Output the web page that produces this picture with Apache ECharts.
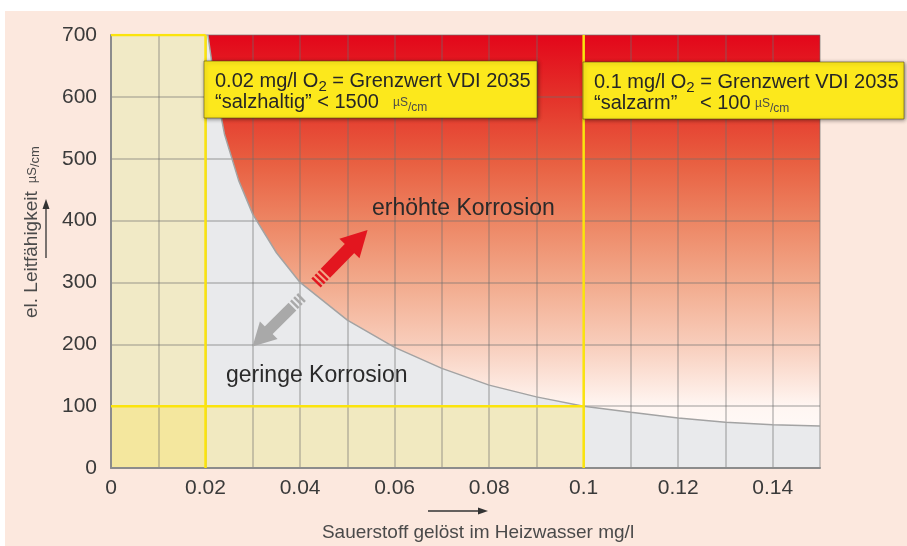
<!DOCTYPE html>
<html>
<head>
<meta charset="utf-8">
<script src="https://cdn.jsdelivr.net/npm/echarts/dist/echarts.min.js"></script>
<style>
html, body { margin: 0; padding: 0; background: #fff; }
#chart { width: 907px; height: 546px; }
</style>
</head>
<body>
<div id="chart"></div>
<script>
// tick labels
var xTickLabels = ['0', '0.02', '0.04', '0.06', '0.08', '0.1', '0.12', '0.14'];
var yTickLabels = ['0', '100', '200', '300', '400', '500', '600', '700'];

// Grenzkurve (O2 mg/l -> Leitfähigkeit µS/cm)
var curveX = [0.0205, 0.022, 0.024, 0.027, 0.030, 0.035, 0.040, 0.050, 0.060, 0.070, 0.080, 0.090, 0.100, 0.110, 0.120, 0.130, 0.140, 0.150];
var curveY = [700, 620, 540, 465, 410, 348, 300, 239, 195, 161, 134, 115, 100, 90, 81, 74, 70, 68];

// Grenzwerte VDI 2035
var o2Limits = [0.02, 0.1];
var condLimit = 100;
var xMax = 0.15, yMax = 700;

var font = "'Liberation Sans', Arial, sans-serif";

function pairs(xs, ys) {
    return xs.map(function (x, i) { return [x, ys[i]]; });
}
var curve = pairs(curveX, curveY);
var grayArea = [[0, yMax]].concat(curve);

// Fläche von der Achse bis zur Linie
function zone(name, data, color, z) {
    return {name: name, type: 'line', z: z, silent: true, symbol: 'none', data: data,
        lineStyle: {width: 0}, areaStyle: {origin: 'start', opacity: 1, color: color}};
}
// gelbe Grenzlinie
function limitLine(data) {
    return {type: 'line', z: 12, silent: true, symbol: 'none', data: data,
        lineStyle: {color: '#fbe40c', width: 2.5}};
}

// Pfeil mit Streifen am Ende (zeigt in lokaler +x Richtung)
function arrow(x, y, rot, len, color, half, headHalf, headLen) {
    var kids = [];
    [0, 4.5, 9].forEach(function (s) {
        kids.push({type: 'rect', z: 50, shape: {x: s, y: -half, width: 2.5, height: half * 2}, style: {fill: color}});
    });
    kids.push({type: 'rect', z: 50, shape: {x: 13.5, y: -half, width: len - headLen - 12.5, height: half * 2}, style: {fill: color}});
    kids.push({type: 'polygon', z: 50, shape: {points: [[len - headLen, -headHalf], [len, 0], [len - headLen, headHalf]]}, style: {fill: color}});
    return {type: 'group', x: x, y: y, rotation: rot, children: kids};
}

// Textstücke nebeneinander (für Index / Einheit)
var ctx = document.createElement('canvas').getContext('2d');
function run(x0, y, pieces) {
    var x = x0, out = [];
    pieces.forEach(function (p) {
        if (p.at != null) x = p.at;
        ctx.font = p.size + 'px ' + font;
        out.push({type: 'text', x: x, y: y + (p.dy || 0), z: 61,
            style: {text: p.text, fontSize: p.size, fontFamily: font, fill: p.color || '#262626', verticalAlign: 'middle'}});
        x += ctx.measureText(p.text).width;
    });
    return out;
}

function box(x, y, w, h, lines) {
    var els = [{type: 'rect', z: 60, shape: {x: x, y: y, width: w, height: h},
        style: {fill: '#fce81c', stroke: 'rgba(80,70,20,0.55)', lineWidth: 1,
            shadowBlur: 4, shadowColor: 'rgba(0,0,0,0.45)', shadowOffsetX: 1, shadowOffsetY: 1}}];
    lines.forEach(function (l) { els = els.concat(run(l[0], l[1], l[2])); });
    return els;
}

var unit = '#4a4a4a';
var graphics = [
    {type: 'rect', shape: {x: 0, y: 0, width: 907, height: 11}, style: {fill: '#fff'}, z: 100},
    {type: 'rect', shape: {x: 0, y: 0, width: 5, height: 546}, style: {fill: '#fff'}, z: 100}
].concat(
    box(204, 61, 333, 57, [
        [215, 81, [{text: '0.02 mg/l O', size: 20}, {text: '2', size: 15, dy: 6}, {text: ' = Grenzwert VDI 2035', size: 20}]],
        [215, 102, [{text: '\u201Csalzhaltig\u201D < 1500', size: 20}, {text: 'µS', size: 12, dy: 1, color: unit, at: 393}, {text: '/cm', size: 12, dy: 6, color: unit}]]
    ]),
    box(583, 62, 321, 57, [
        [594, 82, [{text: '0.1 mg/l O', size: 20}, {text: '2', size: 15, dy: 6}, {text: ' = Grenzwert VDI 2035', size: 20}]],
        [594, 103, [{text: '\u201Csalzarm\u201D', size: 20}, {text: '< 100', size: 20, at: 700}, {text: 'µS', size: 12, dy: 1, color: unit, at: 755}, {text: '/cm', size: 12, dy: 6, color: unit}]]
    ]),
    [
        {type: 'text', x: 372, y: 209, z: 50, style: {text: 'erhöhte Korrosion', fontSize: 23, fontFamily: font, fill: '#2a2a2a', verticalAlign: 'middle'}},
        {type: 'text', x: 226, y: 376, z: 50, style: {text: 'geringe Korrosion', fontSize: 23, fontFamily: font, fill: '#2a2a2a', verticalAlign: 'middle'}},
        arrow(316, 283, 0.80, 74, '#e3161f', 6.5, 14, 26),
        arrow(302, 297, Math.PI + 0.785, 70, '#a9a9a9', 5.5, 12.5, 23),
        // Achsentitel y
        {type: 'text', x: 32, y: 318, rotation: Math.PI / 2, z: 50,
            style: {text: '{n|el. Leitfähigkeit}{u|µS}{c|/cm}', verticalAlign: 'middle', align: 'left',
                rich: {
                    n: {fontSize: 19, fontFamily: font, fill: '#4a4a4a', lineHeight: 20},
                    u: {fontSize: 13, fontFamily: font, fill: '#4a4a4a', lineHeight: 20, padding: [0, 0, 0, 8]},
                    c: {fontSize: 13, fontFamily: font, fill: '#4a4a4a', lineHeight: 8, verticalAlign: 'bottom'}
                }}},
        {type: 'line', z: 50, shape: {x1: 46, y1: 258, x2: 46, y2: 206}, style: {stroke: '#333', lineWidth: 1.3}},
        {type: 'polygon', z: 50, shape: {points: [[46, 199], [42.5, 209], [49.5, 209]]}, style: {fill: '#333'}},
        // Achsentitel x
        {type: 'text', x: 478, y: 533, z: 50,
            style: {text: 'Sauerstoff gelöst im Heizwasser mg/l', fontSize: 19, fontFamily: font, fill: '#4a4a4a', align: 'center', verticalAlign: 'middle'}},
        {type: 'line', z: 50, shape: {x1: 428, y1: 511, x2: 480, y2: 511}, style: {stroke: '#333', lineWidth: 1.3}},
        {type: 'polygon', z: 50, shape: {points: [[488, 511], [478, 507.5], [478, 514.5]]}, style: {fill: '#333'}}
    ]
);

var option = {
    animation: false,
    backgroundColor: '#fce8de',
    grid: {left: 111, right: 87, top: 35, bottom: 78},
    xAxis: {
        type: 'value', min: 0, max: xMax, interval: 0.01, z: 10,
        axisLine: {show: true, lineStyle: {color: '#8c8c8c', width: 2}},
        axisTick: {show: false},
        splitLine: {show: true, lineStyle: {color: 'rgba(110,110,110,0.45)', width: 1.5}},
        axisLabel: {
            margin: 10, fontSize: 21, color: '#3a3a3a', fontFamily: font,
            formatter: function (v) {
                var k = Math.round(v * 100);
                return k % 2 === 0 ? (xTickLabels[k / 2] || '') : '';
            }
        }
    },
    yAxis: {
        type: 'value', min: 0, max: yMax, interval: 100, z: 10,
        axisLine: {show: true, lineStyle: {color: '#8c8c8c', width: 2}},
        axisTick: {show: false},
        splitLine: {show: true, lineStyle: {color: 'rgba(110,110,110,0.45)', width: 1.5}},
        axisLabel: {
            margin: 14, fontSize: 21, color: '#3a3a3a', fontFamily: font,
            formatter: function (v) { return yTickLabels[Math.round(v / 100)]; }
        }
    },
    series: [
        zone('erhöhte Korrosion', [[o2Limits[0], yMax], [xMax, yMax]],
            new echarts.graphic.LinearGradient(0, 0, 0, 1, [
                {offset: 0, color: '#e3061a'},
                {offset: 0.143, color: '#e4322a'},
                {offset: 0.286, color: '#e85d3f'},
                {offset: 0.429, color: '#ed8563'},
                {offset: 0.571, color: '#f2aa8c'},
                {offset: 0.714, color: '#f8cdbb'},
                {offset: 0.857, color: '#fff6f2'},
                {offset: 1, color: '#ffffff'}
            ]), 1),
        zone('geringe Korrosion', grayArea, '#e9eaec', 2),
        zone('salzhaltig', [[0, yMax], [o2Limits[0], yMax]], '#f1eac6', 3),
        zone('salzarm', [[o2Limits[0], condLimit], [o2Limits[1], condLimit]], '#f1e9c0', 3),
        zone('beide', [[0, condLimit], [o2Limits[0], condLimit]], '#f4e79e', 4),
        limitLine([[o2Limits[0], 0], [o2Limits[0], yMax]]),
        limitLine([[o2Limits[1], 0], [o2Limits[1], yMax]]),
        limitLine([[0, condLimit], [o2Limits[1], condLimit]]),
        limitLine([[0, yMax], [o2Limits[0], yMax]]),
        {
            name: 'Grenzkurve', type: 'line', z: 11, silent: true, symbol: 'none',
            data: curve,
            lineStyle: {color: '#a3a3a3', width: 1.5}
        }
    ],
    graphic: graphics
};

var chart = echarts.init(document.getElementById('chart'));
chart.setOption(option);
</script>
</body>
</html>
